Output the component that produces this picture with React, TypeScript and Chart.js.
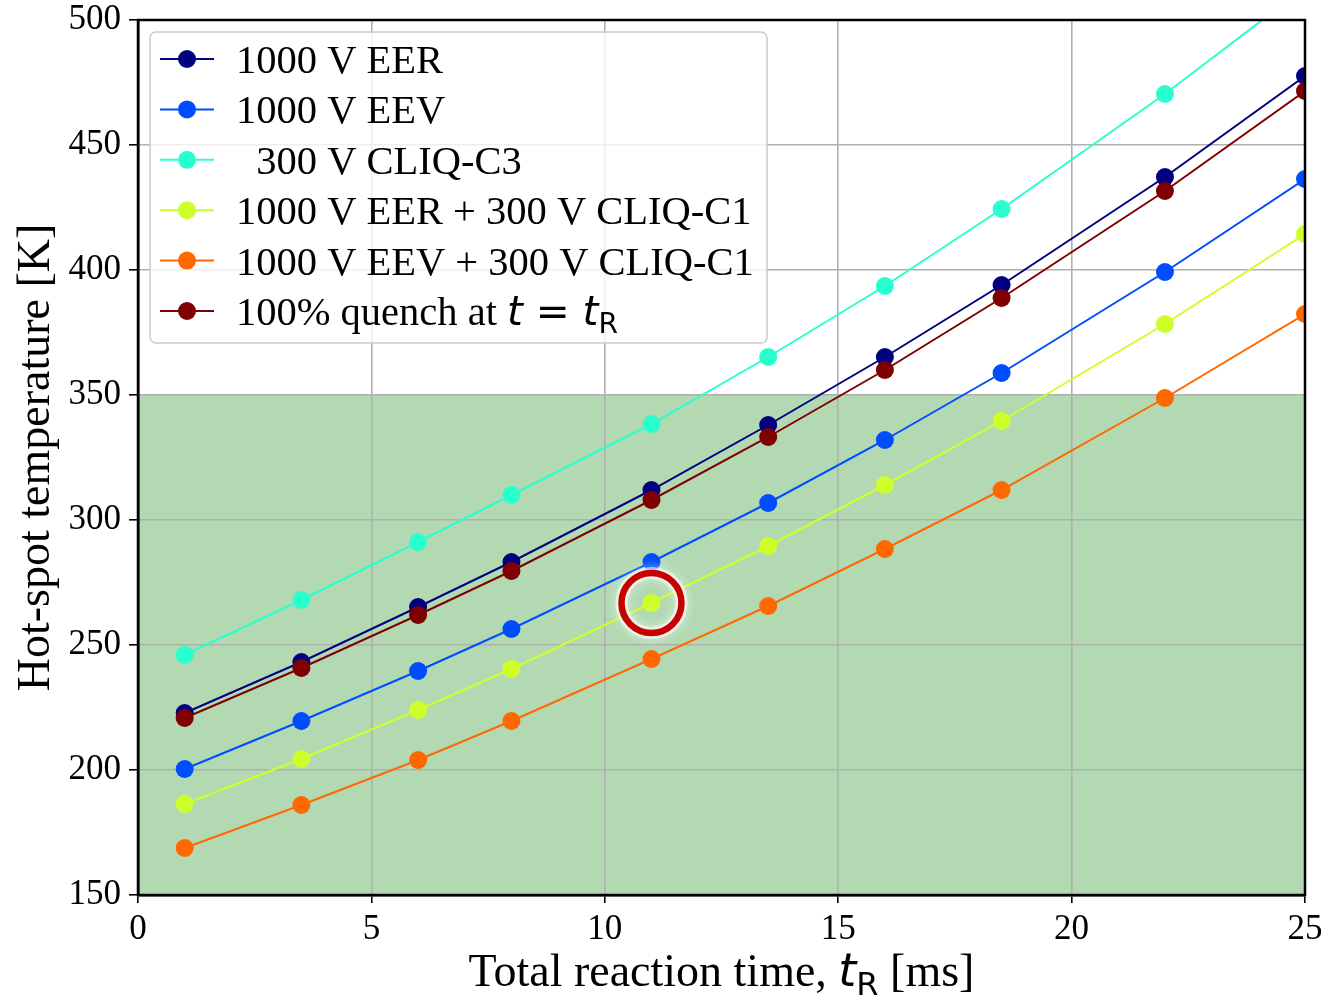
import React, { useEffect, useRef } from 'react';
import { Chart, registerables } from 'chart.js';

Chart.register(...registerables);

// ---- data ----
const reactionTimes = [1, 3.5, 6, 8, 11, 13.5, 16, 18.5, 22, 25];
const eer1000 = [222.8, 243.2, 265.2, 283.2, 312, 338, 365.2, 394, 437.2, 477.6];
const eev1000 = [200.4, 219.6, 239.6, 256.4, 283.2, 306.8, 332, 358.8, 399.2, 436.4];
const cliqC3 = [246, 268, 291.2, 310, 338.4, 365.2, 393.6, 424.4, 470.4, 513];
const eerCliqC1 = [186.4, 204.4, 224, 240.4, 266.8, 289.6, 314, 339.6, 378.4, 414.4];
const eevCliqC1 = [168.8, 186, 204, 219.6, 244.4, 265.6, 288.4, 312, 348.8, 382.4];
const fullQuench = [220.8, 240.8, 262, 279.6, 308, 333.2, 360, 388.8, 431.6, 471.6];

const seriesLabels = [
  '1000 V EER',
  '1000 V EEV',
  '  300 V CLIQ-C3',
  '1000 V EER + 300 V CLIQ-C1',
  '1000 V EEV + 300 V CLIQ-C1',
  '100% quench at t = tR',
];
const seriesValues = [eer1000, eev1000, cliqC3, eerCliqC1, eevCliqC1, fullQuench];
const seriesColors = ['#000080', '#004cff', '#29ffce', '#ceff29', '#ff6800', '#7f0000'];

const xMin = 0, xMax = 25, xStep = 5;
const yMin = 150, yMax = 500, yStep = 50;
const safeLimit = 350;
const highlightSeries = 3;
const highlightIndex = 4;

const SERIF = "'Liberation Serif', 'Times New Roman', serif";
const MATH = "'DejaVu Sans', sans-serif";

type Seg = { text: string; font: string; dy?: number };

function segWidth(ctx: CanvasRenderingContext2D, segs: Seg[]) {
  let w = 0;
  for (const s of segs) {
    ctx.font = s.font;
    w += ctx.measureText(s.text).width;
  }
  return w;
}
function drawSegs(ctx: CanvasRenderingContext2D, segs: Seg[], x: number, y: number) {
  let cx = x;
  for (const s of segs) {
    ctx.font = s.font;
    ctx.fillText(s.text, cx, y + (s.dy || 0));
    cx += ctx.measureText(s.text).width;
  }
}

function legendSegs(label: string, size: number): Seg[] {
  if (label.includes('t = tR')) {
    const base = label.replace('t = tR', '');
    return [
      { text: base, font: `${size}px ${SERIF}` },
      { text: 't', font: `italic ${size}px ${MATH}` },
      { text: ' = ', font: `${size}px ${MATH}` },
      { text: 't', font: `italic ${size}px ${MATH}` },
      { text: 'R', font: `${Math.round(size * 0.7)}px ${MATH}`, dy: 8 },
    ];
  }
  return [{ text: label, font: `${size}px ${SERIF}` }];
}

const decorPlugin = {
  id: 'decor',
  beforeDraw(chart: any) {
    const { ctx, chartArea: a, scales } = chart;
    const yTop = scales.y.getPixelForValue(safeLimit);
    ctx.save();
    ctx.fillStyle = 'rgba(0,128,0,0.3)';
    ctx.fillRect(a.left, yTop, a.right - a.left, a.bottom - yTop);
    ctx.restore();
  },
  afterDatasetsDraw(chart: any) {
    const { ctx, chartArea: a, scales } = chart;
    // highlight circle
    const hx = scales.x.getPixelForValue(reactionTimes[highlightIndex]);
    const hy = scales.y.getPixelForValue(seriesValues[highlightSeries][highlightIndex]);
    ctx.save();
    ctx.strokeStyle = 'rgba(255,255,255,0.55)';
    ctx.lineWidth = 12;
    ctx.shadowColor = 'rgba(255,255,255,0.9)';
    ctx.shadowBlur = 10;
    ctx.beginPath();
    ctx.arc(hx, hy, 30, 0, Math.PI * 2);
    ctx.stroke();
    ctx.shadowBlur = 0;
    ctx.strokeStyle = '#c80000';
    ctx.lineWidth = 6.5;
    ctx.beginPath();
    ctx.arc(hx, hy, 30, 0, Math.PI * 2);
    ctx.stroke();
    ctx.restore();

    // frame
    ctx.save();
    ctx.strokeStyle = '#000';
    ctx.lineWidth = 2.5;
    ctx.strokeRect(a.left, a.top, a.right - a.left, a.bottom - a.top);
    ctx.restore();

    // legend
    const lx = a.left + 12, ly = a.top + 12, lw = 617, lh = 311;
    ctx.save();
    ctx.beginPath();
    (ctx as any).roundRect(lx, ly, lw, lh, 6);
    ctx.fillStyle = 'rgba(255,255,255,0.8)';
    ctx.fill();
    ctx.strokeStyle = '#cccccc';
    ctx.lineWidth = 1.5;
    ctx.stroke();
    chart.data.datasets.forEach((ds: any, i: number) => {
      const cy = ly + 27 + i * 50.4;
      ctx.strokeStyle = ds.borderColor;
      ctx.lineWidth = 2;
      ctx.beginPath();
      ctx.moveTo(lx + 10, cy);
      ctx.lineTo(lx + 64, cy);
      ctx.stroke();
      ctx.fillStyle = ds.backgroundColor;
      ctx.beginPath();
      ctx.arc(lx + 37, cy, 9, 0, Math.PI * 2);
      ctx.fill();
      ctx.fillStyle = '#000';
      ctx.textAlign = 'left';
      ctx.textBaseline = 'alphabetic';
      drawSegs(ctx, legendSegs(ds.label, 40.5), lx + 86, cy + 14);
    });
    ctx.restore();
  },
  afterDraw(chart: any) {
    const { ctx, chartArea: a } = chart;
    ctx.save();
    ctx.fillStyle = '#000';
    ctx.textAlign = 'left';
    ctx.textBaseline = 'alphabetic';
    // x title
    const xs: Seg[] = [
      { text: 'Total reaction time, ', font: `46px ${SERIF}` },
      { text: 't', font: `italic 46px ${MATH}` },
      { text: 'R', font: `32px ${MATH}`, dy: 9 },
      { text: ' [ms]', font: `46px ${SERIF}` },
    ];
    const xw = segWidth(ctx, xs);
    drawSegs(ctx, xs, (a.left + a.right) / 2 - xw / 2, 986);
    // y title
    const ys: Seg[] = [{ text: 'Hot-spot temperature [K]', font: `46px ${SERIF}` }];
    const yw = segWidth(ctx, ys);
    ctx.translate(49, (a.top + a.bottom) / 2);
    ctx.rotate(-Math.PI / 2);
    drawSegs(ctx, ys, -yw / 2, 0);
    ctx.restore();
  },
};

export default function App() {
  const ref = useRef<HTMLCanvasElement | null>(null);
  useEffect(() => {
    if (!ref.current) return;
    const datasets = seriesValues.map((vals, i) => ({
      label: seriesLabels[i],
      data: vals.map((v, j) => ({ x: reactionTimes[j], y: v })),
      borderColor: seriesColors[i],
      backgroundColor: seriesColors[i],
      pointBackgroundColor: seriesColors[i],
      pointBorderWidth: 0,
      pointRadius: 9,
      pointHoverRadius: 9,
      borderWidth: 2,
      tension: 0,
      clip: 0,
      order: seriesValues.length - i,
    }));
    const chart = new Chart(ref.current, {
      type: 'line',
      data: { datasets },
      plugins: [decorPlugin],
      options: {
        animation: false,
        responsive: true,
        maintainAspectRatio: false,
        layout: { padding: { left: 0, top: 20, right: 21, bottom: 0 } },
        plugins: { legend: { display: false }, tooltip: { enabled: false }, title: { display: false } },
        scales: {
          x: {
            type: 'linear',
            min: xMin,
            max: xMax,
            afterFit: (s: any) => { s.height = 105; s.paddingLeft = 0; s.paddingRight = 0; },
            ticks: { stepSize: xStep, color: '#000', font: { family: SERIF, size: 35 }, padding: 6, maxRotation: 0 },
            grid: { color: '#b0b0b0', lineWidth: 1.6, tickColor: '#000', tickWidth: 1.6, tickLength: 8 },
            border: { display: true, color: '#000', width: 2.5 },
          },
          y: {
            type: 'linear',
            min: yMin,
            max: yMax,
            afterFit: (s: any) => { s.width = 138; s.paddingTop = 0; s.paddingBottom = 0; },
            ticks: { stepSize: yStep, color: '#000', font: { family: SERIF, size: 35 }, padding: 8 },
            grid: { color: '#b0b0b0', lineWidth: 1.6, tickColor: '#000', tickWidth: 1.6, tickLength: 9 },
            border: { display: true, color: '#000', width: 2.5 },
          },
        },
      },
    });
    return () => chart.destroy();
  }, []);
  return (
    <div style={{ position: 'absolute', left: 0, top: 0, width: 1326, height: 1000 }}>
      <canvas ref={ref} />
    </div>
  );
}
